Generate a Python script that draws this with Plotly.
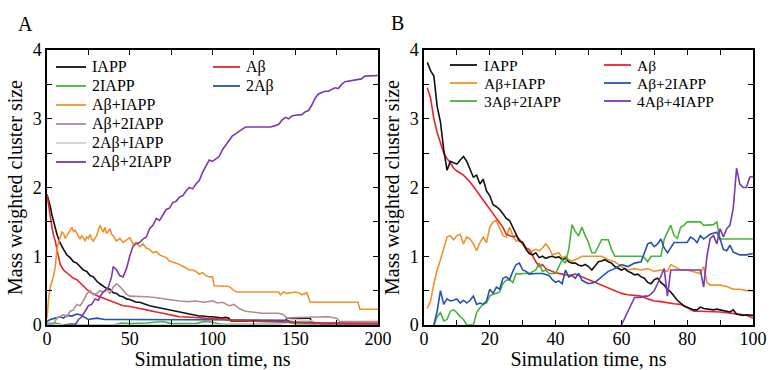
import plotly.graph_objects as go

# ---------------- Panel A data (time in ns, mass weighted cluster size) ----------------
A_IAPP_t = [0, 1, 2, 3, 4, 5, 6, 7, 8, 10, 12, 14, 16, 18, 20, 22, 24, 26, 28, 30, 32, 34, 36, 38, 40, 42, 44, 46,
            48, 50, 52, 54, 56, 58, 60, 62, 64, 66, 68, 70, 72, 74, 76, 78, 80, 82, 84, 86, 88, 90, 92, 94, 96, 98,
            100, 102, 104, 106, 108, 110, 111, 120, 130, 140, 144, 145, 150, 155, 159, 160, 170, 180, 190, 200]
A_IAPP_v = [1.9, 1.82, 1.72, 1.6, 1.5, 1.4, 1.32, 1.25, 1.19, 1.1, 1.02, 0.98, 0.92, 0.9, 0.85, 0.8, 0.78, 0.72,
            0.7, 0.64, 0.6, 0.57, 0.53, 0.52, 0.47, 0.46, 0.42, 0.41, 0.38, 0.37, 0.35, 0.33, 0.33, 0.31, 0.3, 0.28,
            0.27, 0.26, 0.25, 0.23, 0.22, 0.21, 0.2, 0.19, 0.18, 0.17, 0.16, 0.15, 0.15, 0.14, 0.13, 0.13, 0.12,
            0.12, 0.12, 0.11, 0.11, 0.1, 0.11, 0.1, 0.06, 0.06, 0.05, 0.05, 0.05, 0.1, 0.1, 0.1, 0.1, 0.03, 0.03,
            0.02, 0.02, 0.02]

A_Ab_t = [0, 1, 2, 3, 4, 5, 6, 7, 8, 9, 10, 12, 14, 16, 18, 20, 22, 24, 26, 28, 30, 33, 36, 40, 43, 46, 50, 53, 56,
          60, 63, 66, 70, 73, 76, 80, 85, 90, 95, 100, 105, 110, 115, 120, 130, 140, 145, 150, 160, 170, 175, 180, 200]
A_Ab_v = [1.9, 1.72, 1.55, 1.42, 1.3, 1.22, 1.1, 0.98, 0.88, 0.84, 0.8, 0.76, 0.72, 0.68, 0.66, 0.61, 0.56, 0.52,
          0.48, 0.45, 0.43, 0.4, 0.37, 0.33, 0.3, 0.28, 0.27, 0.25, 0.24, 0.22, 0.21, 0.19, 0.17, 0.15, 0.14, 0.12,
          0.12, 0.11, 0.1, 0.1, 0.09, 0.07, 0.06, 0.06, 0.05, 0.05, 0.04, 0.04, 0.03, 0.02, 0.03, 0.02, 0.02]

A_AbIAPP_t = [0, 1, 2, 3, 4, 5, 6, 7, 8, 9, 10, 11, 12, 13, 14, 15, 16, 17, 18, 19, 20, 21, 22, 23, 24, 25, 26,
              27, 28, 30, 31, 32, 33, 34, 35, 36, 37, 38, 39, 40, 42, 44, 46, 48, 50, 52, 54, 56, 58, 60, 62, 64, 66,
              68, 70, 72, 74, 76, 78, 80, 82, 84, 86, 88, 90, 92, 94, 96, 98, 100, 101, 110, 113, 115, 140, 141, 143,
              145, 150, 152, 154, 157, 159, 188, 189, 200]
A_AbIAPP_v = [0.1, 0.4, 0.55, 0.62, 0.72, 0.85, 1.1, 1.2, 1.28, 1.35, 1.33, 1.26, 1.3, 1.35, 1.38, 1.42, 1.36, 1.38,
              1.33, 1.28, 1.25, 1.3, 1.27, 1.22, 1.28, 1.26, 1.32, 1.25, 1.22, 1.3, 1.38, 1.45, 1.4, 1.35, 1.42, 1.33,
              1.36, 1.4, 1.32, 1.3, 1.22, 1.26, 1.2, 1.24, 1.27, 1.18, 1.2, 1.14, 1.18, 1.12, 1.1, 1.05, 1.07, 1.02,
              1.0, 0.98, 0.93, 0.92, 0.9, 0.88, 0.86, 0.83, 0.8, 0.8, 0.78, 0.74, 0.76, 0.72, 0.7, 0.7, 0.57, 0.56,
              0.5, 0.48, 0.48, 0.44, 0.48, 0.46, 0.48, 0.47, 0.44, 0.47, 0.33, 0.33, 0.23, 0.23]

A_Ab2IAPP_t = [0, 4, 6, 8, 10, 12, 14, 16, 18, 20, 22, 24, 26, 28, 30, 32, 34, 36, 38, 40, 42, 44, 46, 48, 50, 55,
               60, 65, 70, 75, 80, 85, 90, 95, 100, 103, 106, 110, 113, 116, 120, 130, 140, 143, 145, 150, 160, 170,
               175, 177, 200]
A_Ab2IAPP_v = [0.0, 0.02, 0.1, 0.12, 0.15, 0.12, 0.2, 0.22, 0.3, 0.28, 0.35, 0.45, 0.5, 0.44, 0.46, 0.5, 0.48, 0.52,
               0.46, 0.55, 0.6, 0.56, 0.5, 0.45, 0.42, 0.42, 0.41, 0.4, 0.38, 0.36, 0.35, 0.34, 0.35, 0.33, 0.35,
               0.32, 0.33, 0.28, 0.3, 0.24, 0.2, 0.17, 0.17, 0.15, 0.1, 0.11, 0.12, 0.12, 0.1, 0.05, 0.05]

A_2Ab_t = [0, 2, 5, 8, 10, 12, 15, 18, 20, 22, 25, 30, 35, 45, 60, 80, 100, 120, 145, 148, 160, 165, 200]
A_2Ab_v = [0.05, 0.08, 0.1, 0.12, 0.1, 0.14, 0.13, 0.16, 0.15, 0.12, 0.08, 0.1, 0.08, 0.08, 0.08, 0.08, 0.07,
           0.07, 0.07, 0.04, 0.04, 0.02, 0.02]

A_2IAPP_t = [0, 5, 10, 15, 20, 40, 45, 50, 60, 70, 75, 90, 95, 100, 105, 140, 145, 150, 200]
A_2IAPP_v = [0.02, 0.03, 0.0, 0.02, 0.0, 0.0, 0.03, 0.02, 0.03, 0.05, 0.02, 0.02, 0.05, 0.04, 0.01, 0.01, 0.04, 0.02,
             0.0]

A_2AbIAPP_t = [0, 140, 145, 150, 160, 165, 200]
A_2AbIAPP_v = [0.0, 0.0, 0.06, 0.08, 0.06, 0.0, 0.0]

A_2Ab2IAPP_t = [10, 17, 19, 21, 23, 25, 27, 29, 31, 33, 35, 37, 39, 40, 42, 44, 46, 48, 50, 52, 54, 56, 58, 60, 62,
                64, 66, 68, 70, 72, 74, 76, 78, 80, 82, 84, 86, 88, 90, 92, 94, 96, 98, 100, 102, 104, 106, 108, 110,
                112, 114, 116, 118, 120, 125, 130, 135, 138, 140, 142, 144, 146, 148, 150, 152, 154, 156, 158, 160,
                162, 164, 166, 168, 170, 172, 174, 176, 178, 180, 183, 186, 188, 190, 192, 195, 198, 200]
A_2Ab2IAPP_v = [0.0, 0.0, 0.08, 0.12, 0.2, 0.28, 0.3, 0.38, 0.36, 0.45, 0.5, 0.55, 0.7, 0.85, 0.8, 0.72, 0.7, 0.82,
                1.0, 1.15, 1.18, 1.2, 1.25, 1.28, 1.4, 1.45, 1.55, 1.52, 1.6, 1.68, 1.7, 1.78, 1.8, 1.86, 1.88, 1.95,
                2.0, 1.98, 2.05, 2.1, 2.22, 2.3, 2.4, 2.38, 2.42, 2.45, 2.55, 2.62, 2.68, 2.75, 2.78, 2.82, 2.85, 2.88,
                2.88, 2.88, 2.88, 2.9, 2.92, 2.98, 3.02, 3.0, 3.04, 3.05, 3.05, 3.06, 3.1, 3.12, 3.2, 3.3, 3.36, 3.38,
                3.4, 3.4, 3.42, 3.45, 3.44, 3.5, 3.54, 3.55, 3.56, 3.57, 3.58, 3.62, 3.62, 3.63, 3.63]

# ---------------- Panel B data ----------------
B_IAPP_t = [1, 2, 3, 4, 5, 6, 7, 8, 9, 10, 11, 12, 13, 14, 15, 16, 17, 18, 19, 20, 21, 22, 23, 24, 25, 26, 27, 28,
            29, 30, 31, 32, 33, 34, 35, 36, 37, 38, 39, 40, 41, 42, 43, 44, 45, 46, 47, 48, 49, 50, 51, 52, 53, 54,
            55, 56, 57, 58, 59, 60, 61, 62, 63, 64, 65, 66, 67, 68, 69, 70, 71, 72, 73, 74, 75, 76, 77, 78, 79, 80,
            81, 82, 83, 84, 85, 86, 87, 88, 89, 90, 91, 92, 93, 94, 95, 96, 97, 98, 99, 100]
B_IAPP_v = [3.82, 3.7, 3.62, 3.18, 2.95, 2.55, 2.25, 2.38, 2.36, 2.34, 2.4, 2.45, 2.38, 2.26, 2.15, 2.18, 2.05,
            2.12, 1.95, 1.88, 1.75, 1.72, 1.68, 1.62, 1.55, 1.52, 1.42, 1.3, 1.22, 1.2, 1.1, 1.04, 1.02, 1.05, 0.98,
            1.0, 0.97, 0.99, 1.0, 0.98, 0.99, 0.95, 0.97, 0.92, 0.9, 0.9, 0.87, 0.86, 0.88, 0.85, 0.8, 0.86, 0.92,
            0.93, 0.95, 0.92, 0.9, 0.85, 0.82, 0.8, 0.82, 0.78, 0.76, 0.73, 0.74, 0.7, 0.68, 0.62, 0.6, 0.66, 0.68,
            0.62, 0.58, 0.52, 0.48, 0.42, 0.36, 0.32, 0.28, 0.26, 0.24, 0.22, 0.22, 0.26, 0.24, 0.23, 0.22, 0.22,
            0.23, 0.22, 0.2, 0.2, 0.19, 0.22, 0.16, 0.15, 0.14, 0.15, 0.15, 0.14]

B_Ab_t = [1, 2, 3, 4, 5, 6, 7, 8, 9, 10, 12, 14, 16, 18, 20, 21, 22, 23, 24, 25, 26, 27, 28, 29, 30, 31, 32, 33, 34,
          35, 36, 37, 38, 40, 42, 44, 46, 48, 50, 52, 54, 56, 58, 60, 62, 64, 66, 68, 70, 72, 74, 76, 78, 80, 82,
          84, 86, 88, 90, 92, 94, 96, 98, 100]
B_Ab_v = [3.45, 3.3, 3.0, 2.8, 2.65, 2.5, 2.42, 2.36, 2.28, 2.24, 2.18, 2.08, 1.95, 1.82, 1.68, 1.62, 1.56, 1.48,
          1.42, 1.32, 1.3, 1.28, 1.3, 1.24, 1.2, 1.12, 1.1, 1.0, 0.92, 0.85, 0.88, 0.82, 0.8, 0.76, 0.74, 0.72,
          0.74, 0.7, 0.66, 0.62, 0.58, 0.54, 0.5, 0.46, 0.44, 0.43, 0.42, 0.38, 0.35, 0.34, 0.32, 0.31, 0.3, 0.25,
          0.2, 0.2, 0.2, 0.2, 0.19, 0.18, 0.17, 0.15, 0.14, 0.1]

B_AbIAPP_t = [1, 2, 3, 4, 5, 6, 7, 8, 9, 10, 11, 12, 13, 14, 15, 16, 17, 18, 19, 20, 21, 22, 23, 24, 25, 26, 27, 28,
              29, 30, 31, 32, 33, 34, 35, 36, 37, 38, 39, 40, 41, 42, 43, 44, 45, 46, 48, 50, 52, 54, 56, 58, 60,
              62, 64, 66, 68, 70, 72, 74, 75, 76, 78, 80, 82, 84, 85, 86, 87, 88, 90, 92, 94, 96, 98, 100]
B_AbIAPP_v = [0.24, 0.35, 0.6, 0.8, 0.95, 1.12, 1.28, 1.3, 1.24, 1.3, 1.32, 1.18, 1.28, 1.25, 1.18, 1.08, 1.2,
              1.28, 1.2, 1.42, 1.5, 1.52, 1.42, 1.3, 1.28, 1.42, 1.3, 1.22, 1.25, 1.16, 1.12, 1.05, 1.08, 1.1, 1.08,
              1.12, 1.18, 1.12, 1.02, 1.04, 1.05, 0.98, 1.0, 0.95, 0.93, 0.95, 1.0, 1.0, 1.0, 1.0, 0.95, 0.92, 0.85,
              0.8, 0.82, 0.8, 0.82, 0.78, 0.8, 0.78, 0.88, 0.85, 0.8, 0.8, 0.78, 0.75, 0.85, 0.62, 0.58, 0.58, 0.58,
              0.56, 0.52, 0.52, 0.5, 0.5]

B_Ab2IAPP_t = [3, 4, 5, 6, 7, 8, 9, 10, 11, 12, 13, 14, 15, 16, 17, 18, 19, 20, 21, 22, 23, 24, 25, 26, 27, 28, 29,
               30, 31, 32, 34, 36, 38, 39, 40, 41, 42, 43, 44, 45, 46, 47, 48, 50, 52, 54, 56, 58, 60, 62, 64, 66,
               67, 68, 69, 70, 71, 72, 73, 74, 76, 78, 80, 81, 82, 83, 84, 85, 87, 89, 90, 91, 92, 93, 94, 95, 96, 98,
               100]
B_Ab2IAPP_v = [0.0, 0.2, 0.5, 0.3, 0.38, 0.35, 0.36, 0.38, 0.32, 0.36, 0.32, 0.36, 0.42, 0.3, 0.32, 0.3, 0.35, 0.52,
               0.46, 0.55, 0.52, 0.68, 0.7, 0.66, 0.78, 0.88, 0.9, 0.8, 0.78, 0.74, 0.75, 0.75, 0.72, 0.66, 0.62,
               0.64, 0.6, 0.8, 0.7, 0.72, 0.68, 0.75, 0.65, 0.6, 0.62, 0.7, 0.78, 0.82, 0.88, 0.85, 0.9, 0.92, 1.05,
               1.18, 1.2, 1.14, 1.18, 1.25, 1.12, 1.05, 1.2, 1.2, 1.2, 1.28, 1.25, 1.2, 1.3, 1.25, 1.32, 1.35, 1.25,
               1.1, 1.08, 1.16, 1.06, 1.04, 1.02, 1.02, 1.04]

B_3Ab2IAPP_t = [3, 4, 5, 6, 7, 8, 9, 10, 11, 12, 13, 14, 15, 16, 17, 18, 19, 20, 21, 22, 23, 24, 25, 26, 27, 28, 29,
                30, 32, 34, 35, 36, 37, 38, 40, 41, 42, 43, 44, 45, 46, 47, 48, 49, 50, 51, 52, 54, 56, 57, 58, 60,
                62, 64, 66, 67, 68, 69, 70, 72, 73, 74, 75, 76, 77, 78, 79, 80, 82, 84, 85, 86, 88, 89, 90, 92, 95,
                100]
B_3Ab2IAPP_v = [0.0, 0.12, 0.18, 0.06, 0.08, 0.2, 0.22, 0.18, 0.12, 0.08, 0.0, 0.0, 0.0, 0.18, 0.25, 0.3, 0.32,
                0.42, 0.45, 0.46, 0.48, 0.6, 0.65, 0.66, 0.62, 0.75, 0.74, 0.75, 0.75, 0.8, 0.9, 0.78, 0.8, 0.75,
                0.75, 0.85, 0.95, 0.9, 1.1, 1.46, 1.36, 1.3, 1.42, 1.3, 1.2, 1.05, 1.05, 1.24, 1.24, 1.1, 1.0, 1.0,
                1.0, 1.0, 1.0, 0.98, 0.92, 1.0, 1.0, 1.0, 1.25, 1.35, 1.45, 1.3, 1.26, 1.42, 1.45, 1.5, 1.5, 1.5,
                1.45, 1.45, 1.46, 1.5, 1.25, 1.25, 1.25, 1.25]

B_4Ab4IAPP_t = [60, 61, 62, 63, 64, 65, 66, 67, 68, 69, 70, 71, 72, 73, 74, 75, 76, 78, 80, 82, 84, 85, 86, 87, 88,
                89, 90, 91, 92, 93, 94, 95, 96, 97, 98, 99, 100]
B_4Ab4IAPP_v = [0.0, 0.1, 0.2, 0.3, 0.4, 0.4, 0.4, 0.42, 0.42, 0.45, 0.5, 0.6, 0.72, 0.82, 0.42, 0.8, 0.8, 0.8, 0.8,
                0.8, 0.8, 0.55, 1.0, 1.26, 1.3, 1.18, 1.4, 1.28, 1.4, 1.45, 1.7, 2.28, 2.05, 2.0, 2.0, 2.15, 2.16]

# Legend entries for each legend column
A_LEG_LEFT = ["IAPP", "2IAPP", "Aβ+IAPP", "Aβ+2IAPP", "2Aβ+IAPP", "2Aβ+2IAPP"]
A_LEG_RIGHT = ["Aβ", "2Aβ"]
B_LEG_LEFT = ["IAPP", "Aβ+IAPP", "3Aβ+2IAPP"]
B_LEG_RIGHT = ["Aβ", "Aβ+2IAPP", "4Aβ+4IAPP"]

# ---------------- Styling ----------------
SERIF = "'Liberation Serif', 'Times New Roman', 'DejaVu Serif', serif"
C_BLACK = "#111111"
C_RED = "#e8232b"
C_GREEN = "#45b53a"
C_ORANGE = "#f0922b"
C_ROSY = "#b38d8d"
C_GRAY = "#d2d2d2"
C_BLUE = "#2451b3"
C_PURPLE = "#7b38b0"

A_COLORS = {"IAPP": C_BLACK, "2IAPP": C_GREEN, "Aβ+IAPP": C_ORANGE, "Aβ+2IAPP": C_ROSY, "2Aβ+IAPP": C_GRAY,
            "2Aβ+2IAPP": C_PURPLE, "Aβ": C_RED, "2Aβ": C_BLUE}
B_COLORS = {"IAPP": C_BLACK, "Aβ+IAPP": C_ORANGE, "3Aβ+2IAPP": C_GREEN, "Aβ": C_RED, "Aβ+2IAPP": C_BLUE,
            "4Aβ+4IAPP": C_PURPLE}

W, H = 770, 370
ML, MR, MT, MB = 47, 17, 50, 45
PW, PH = W - ML - MR, H - MT - MB

def px_x(p):
    return (p - ML) / PW

def px_y(p):
    return (H - MB - p) / PH

fig = go.Figure()

def add(t, v, name, color, xa, ya):
    fig.add_trace(go.Scatter(x=t, y=v, mode="lines", name=name, xaxis=xa, yaxis=ya,
                             line=dict(color=color, width=1.6), showlegend=False))

add(A_IAPP_t, A_IAPP_v, "IAPP", C_BLACK, "x", "y")
add(A_2IAPP_t, A_2IAPP_v, "2IAPP", C_GREEN, "x", "y")
add(A_2AbIAPP_t, A_2AbIAPP_v, "2Aβ+IAPP", C_GRAY, "x", "y")
add(A_2Ab_t, A_2Ab_v, "2Aβ", C_BLUE, "x", "y")
add(A_Ab_t, A_Ab_v, "Aβ", C_RED, "x", "y")
add(A_Ab2IAPP_t, A_Ab2IAPP_v, "Aβ+2IAPP", C_ROSY, "x", "y")
add(A_AbIAPP_t, A_AbIAPP_v, "Aβ+IAPP", C_ORANGE, "x", "y")
add(A_2Ab2IAPP_t, A_2Ab2IAPP_v, "2Aβ+2IAPP", C_PURPLE, "x", "y")

add(B_AbIAPP_t, B_AbIAPP_v, "Aβ+IAPP", C_ORANGE, "x2", "y2")
add(B_Ab_t, B_Ab_v, "Aβ", C_RED, "x2", "y2")
add(B_IAPP_t, B_IAPP_v, "IAPP", C_BLACK, "x2", "y2")
add(B_3Ab2IAPP_t, B_3Ab2IAPP_v, "3Aβ+2IAPP", C_GREEN, "x2", "y2")
add(B_Ab2IAPP_t, B_Ab2IAPP_v, "Aβ+2IAPP", C_BLUE, "x2", "y2")
add(B_4Ab4IAPP_t, B_4Ab4IAPP_v, "4Aβ+4IAPP", C_PURPLE, "x2", "y2")

# ---------------- Manual legends (lines + text) ----------------
shapes = []
annotations = []

def legend_column(names, colors, x_line0, x_line1, x_text, y0, dy, fsize):
    for i, n in enumerate(names):
        yy = y0 + i * dy
        shapes.append(dict(type="line", xref="paper", yref="paper", x0=px_x(x_line0), x1=px_x(x_line1),
                           y0=px_y(yy), y1=px_y(yy), line=dict(color=colors[n], width=1.8)))
        annotations.append(dict(text=n, xref="paper", yref="paper", x=px_x(x_text), y=px_y(yy),
                                xanchor="left", yanchor="middle", showarrow=False,
                                font=dict(family=SERIF, size=fsize, color="black")))

legend_column(A_LEG_LEFT, A_COLORS, 56, 86, 90, 67, 19, 16)
legend_column(A_LEG_RIGHT, A_COLORS, 213, 240, 244, 67, 19, 16)
legend_column(B_LEG_LEFT, B_COLORS, 450, 477, 482, 65, 18, 15.5)
legend_column(B_LEG_RIGHT, B_COLORS, 604, 631, 635, 65, 18, 15.5)

annotations.append(dict(text="A", x=px_x(25), y=px_y(24), xref="paper", yref="paper", showarrow=False,
                        xanchor="center", yanchor="middle", font=dict(family=SERIF, size=20, color="black")))
annotations.append(dict(text="B", x=px_x(397), y=px_y(23), xref="paper", yref="paper", showarrow=False,
                        xanchor="center", yanchor="middle", font=dict(family=SERIF, size=20, color="black")))

axis_common = dict(showline=True, linecolor="black", linewidth=1.5, mirror="allticks", ticks="inside",
                   ticklen=5, tickwidth=1.2, tickcolor="black", showgrid=False, zeroline=False, automargin=False,
                   tickfont=dict(family=SERIF, size=18, color="black"),
                   title_font=dict(family=SERIF, size=20, color="black"))

xa_end = px_x(378)
xb_start = px_x(424)

fig.update_layout(
    width=W, height=H, margin=dict(l=ML, r=MR, t=MT, b=MB, autoexpand=False),
    paper_bgcolor="white", plot_bgcolor="white",
    font=dict(family=SERIF, color="black"),
    showlegend=False,
    xaxis=dict(domain=[0, xa_end], range=[0, 200], anchor="y", dtick=50, ticklabelstandoff=-3,
               minor=dict(dtick=25, ticks="inside", ticklen=5, tickcolor="black"),
               title=dict(text="Simulation time, ns", standoff=5), **axis_common),
    yaxis=dict(domain=[0, 1], range=[0, 4], anchor="x", dtick=1,
               minor=dict(dtick=0.5, ticks="inside", ticklen=5, tickcolor="black"),
               title=dict(text="Mass weighted cluster size", standoff=5), **axis_common),
    xaxis2=dict(domain=[xb_start, 1], range=[0, 100], anchor="y2", dtick=20, ticklabelstandoff=-3,
                minor=dict(dtick=10, ticks="inside", ticklen=5, tickcolor="black"),
                title=dict(text="Simulation time, ns", standoff=5), **axis_common),
    yaxis2=dict(domain=[0, 1], range=[0, 4], anchor="x2", dtick=1,
                minor=dict(dtick=0.5, ticks="inside", ticklen=5, tickcolor="black"),
                title=dict(text="Mass weighted cluster size", standoff=5), **axis_common),
    shapes=shapes,
    annotations=annotations,
)

fig.write_html("out.html")
